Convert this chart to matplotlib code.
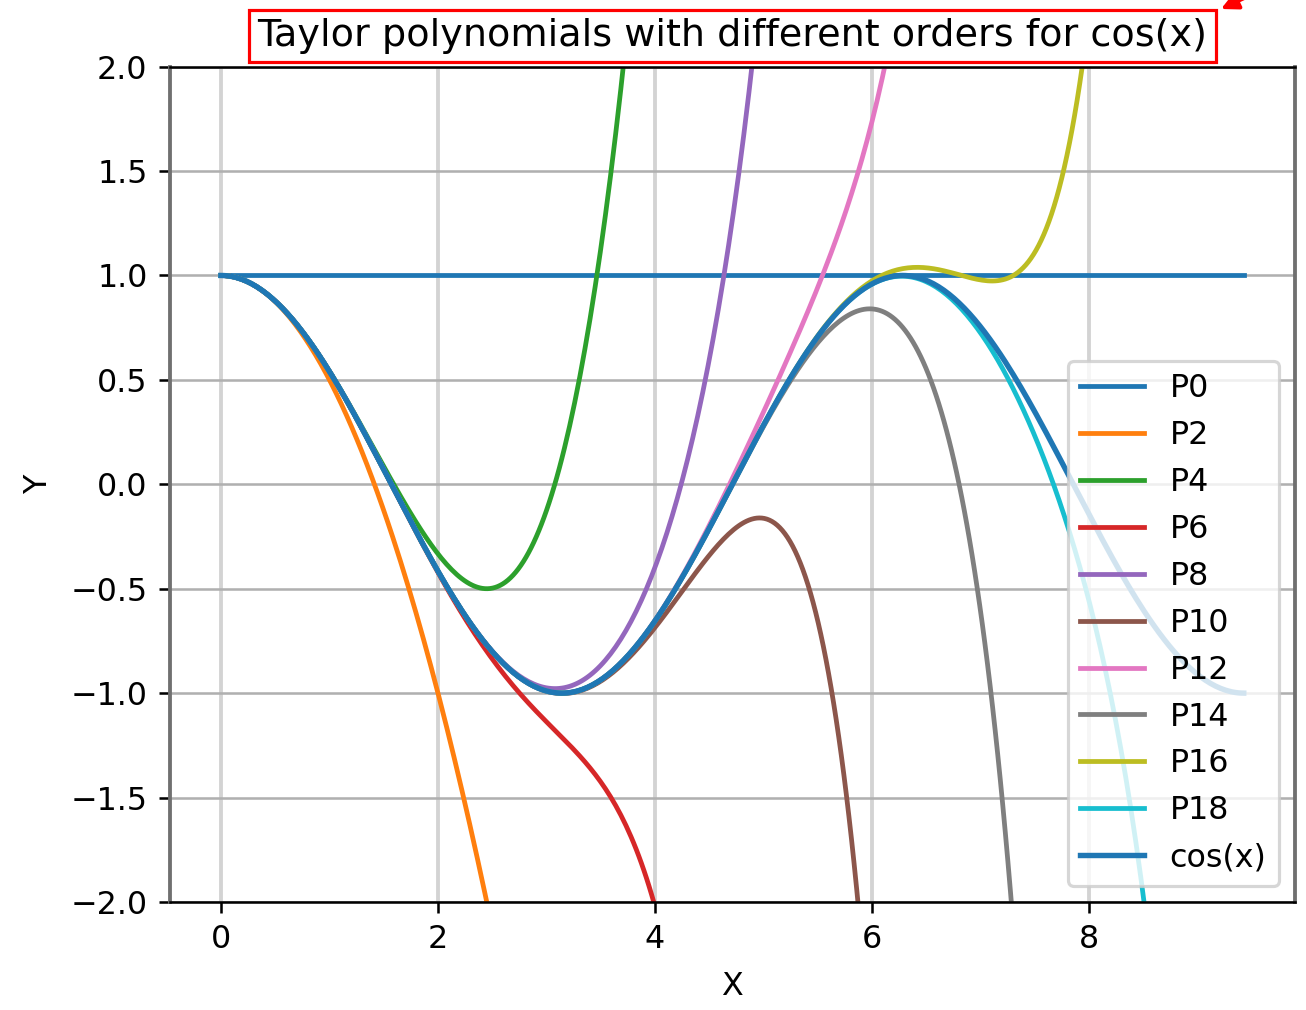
import matplotlib
matplotlib.use("Agg")
import matplotlib.pyplot as plt
from matplotlib.patches import FancyArrowPatch
import numpy as np
from math import factorial

# Taylor orders shown in the legend
orders = [0, 2, 4, 6, 8, 10, 12, 14, 16, 18]
labels = ['P%d' % n for n in orders]
x_start, x_end = 0.0, 3 * np.pi
title = 'Taylor polynomials with different orders for cos(x)'

x = np.linspace(x_start, x_end, 400)


def taylor_cos(x, n):
    y = np.zeros_like(x)
    for k in range(n // 2 + 1):
        y += (-1) ** k * x ** (2 * k) / factorial(2 * k)
    return y


DPI = 229
fig = plt.figure(figsize=(1306 / DPI, 1010 / DPI), dpi=DPI)
ax = fig.add_axes([0.130, 0.107, 0.8615, 0.827])

for n, lab in zip(orders, labels):
    ax.plot(x, taylor_cos(x, n), label=lab, lw=1.5)
ax.plot(x, np.cos(x), label='cos(x)', color='#1f77b4', lw=1.7)

ax.set_ylim(-2, 2)
ax.set_xlim(-0.05 * x_end, x_end * 1.05)
ax.set_xticks([0, 2, 4, 6, 8])
ax.set_yticks([-2.0, -1.5, -1.0, -0.5, 0.0, 0.5, 1.0, 1.5, 2.0])

ax.xaxis.grid(True, color='#d3d3d3', lw=1.2)
ax.yaxis.grid(True, color='#b0b0b0', lw=0.8)
ax.set_axisbelow(True)
for side in ['left', 'right']:
    ax.spines[side].set_color('#707070')
    ax.spines[side].set_linewidth(1.2)

ax.set_xlabel('X', labelpad=5)
ax.set_ylabel('Y', labelpad=5)
ax.legend(loc='lower right', fontsize=10)

ax.set_title(title, fontsize=12, pad=6.5,
             bbox=dict(boxstyle='square,pad=0.22', facecolor='white',
                       edgecolor='red', lw=1.0))

# red marker arrow pointing at the title box (comes in from outside the figure)
arrow = FancyArrowPatch(posA=(1270 / 1306, 1 + 14 / 1010),
                        posB=(1221 / 1306, 1 - 9 / 1010),
                        transform=fig.transFigure, arrowstyle='-|>',
                        color='red', lw=1.2, mutation_scale=11,
                        shrinkA=0, shrinkB=0)
fig.add_artist(arrow)

fig.savefig('out.png', dpi=DPI)
